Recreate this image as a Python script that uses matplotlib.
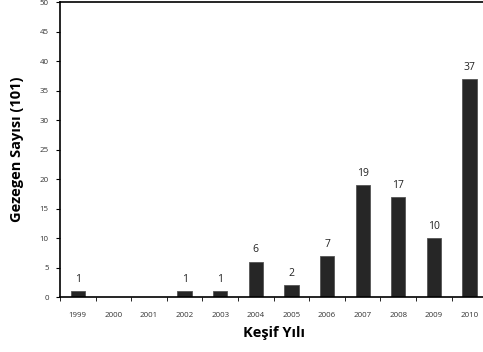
import matplotlib.pyplot as plt
from matplotlib.ticker import FixedLocator

years = ['1999', '2000', '2001', '2002', '2003', '2004',
         '2005', '2006', '2007', '2008', '2009', '2010']
counts = [1, 0, 0, 1, 1, 6, 2, 7, 19, 17, 10, 37]

plt.rcParams['font.family'] = ['Open Sans', 'DejaVu Sans']

fig = plt.figure(figsize=(4.83, 3.52), dpi=100)
ax = fig.add_axes([0.124, 0.156, 0.885, 0.838])

x = list(range(len(years)))
bars = ax.bar(x, counts, width=0.4, color='#262626', edgecolor='#555555', linewidth=0.6)

# value above each non-empty bar
for xi, c in zip(x, counts):
    if c > 0:
        ax.annotate(str(c), (xi, c), xytext=(0, 4.5), textcoords='offset points',
                    ha='center', va='bottom', fontsize=7.5, color='#222222')

ax.set_xlim(-0.5, len(years) - 0.5)
ax.set_ylim(0, 50)
ax.set_yticks(range(0, 51, 5))
ax.set_xticks(x)
ax.set_xticklabels(years)
ax.xaxis.set_minor_locator(FixedLocator([i + 0.5 for i in range(-1, len(years))]))

ax.tick_params(axis='x', which='major', length=0, pad=11, labelsize=5.7, labelcolor='#333333')
ax.tick_params(axis='x', which='minor', length=3, direction='out')
ax.tick_params(axis='y', length=3, direction='out', pad=5, labelsize=5.7, labelcolor='#333333')

for s in ax.spines.values():
    s.set_linewidth(1.2)

ax.set_xlabel('Keşif Yılı', fontsize=10.5, fontweight='bold', labelpad=5)
ax.set_ylabel('Gezegen Sayısı (101)', fontsize=10.5, fontweight='bold', labelpad=11)

fig.savefig('out.png', dpi=100)
